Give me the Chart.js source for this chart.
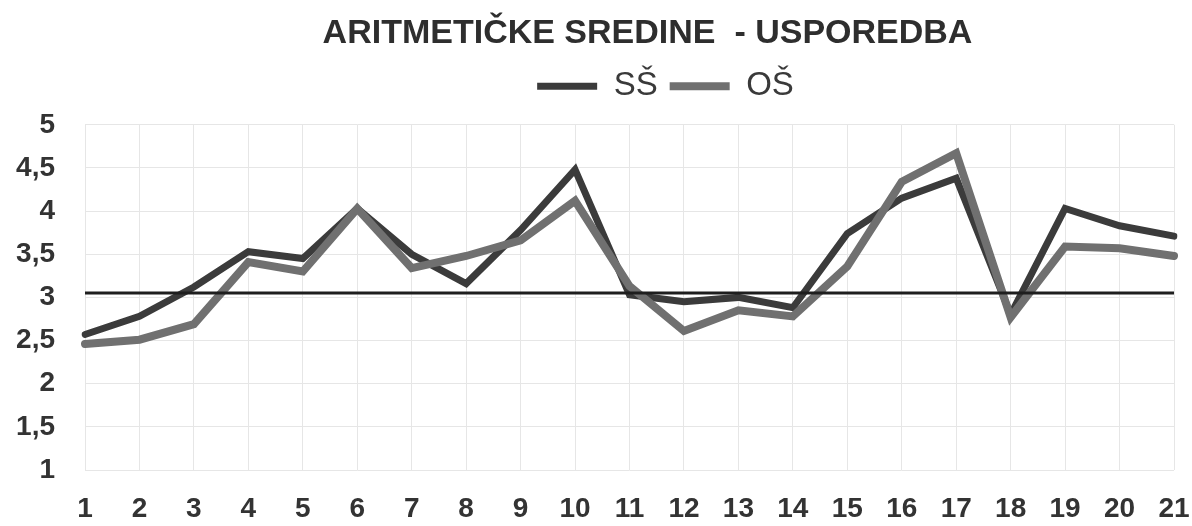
<!DOCTYPE html>
<html>
<head>
<meta charset="utf-8">
<script src="https://cdn.jsdelivr.net/npm/chart.js@4"></script>
<style>
    html, body { margin: 0; padding: 0; background: #fff; }
    #wrap { width: 1192px; height: 526px; }
</style>
</head>
<body>
<div id="wrap"><canvas id="avgChart"></canvas></div>
<script>
// Aritmetičke sredine - usporedba (SŠ vs OŠ)
const categories = ['1', '2', '3', '4', '5', '6', '7', '8', '9', '10', '11',
    '12', '13', '14', '15', '16', '17', '18', '19', '20', '21'];
const ssValues = [2.57, 2.78, 3.12, 3.53, 3.45, 4.03, 3.5, 3.16, 3.78, 4.48, 3.03,
    2.95, 3.0, 2.88, 3.74, 4.15, 4.38, 2.8, 4.03, 3.83, 3.71];
const osValues = [2.46, 2.51, 2.69, 3.41, 3.3, 4.03, 3.34, 3.48, 3.66, 4.12, 3.13,
    2.61, 2.85, 2.78, 3.36, 4.34, 4.67, 2.77, 3.59, 3.57, 3.48];
const refValues = [3.05, 3.05, 3.05, 3.05, 3.05, 3.05, 3.05, 3.05, 3.05, 3.05, 3.05,
    3.05, 3.05, 3.05, 3.05, 3.05, 3.05, 3.05, 3.05, 3.05, 3.05];
const yTickLabels = ['1', '1,5', '2', '2,5', '3', '3,5', '4', '4,5', '5'];

const FONT = '"Liberation Sans", Arial, sans-serif';

// extra room between legend and plot, and nudge title/legend to the right
const legendGap = {
    id: 'legendGap',
    beforeInit(chart) {
        const fit = chart.legend.fit;
        chart.legend.fit = function() {
            fit.call(this);
            this.height += 12;
        };
    },
    afterLayout(chart) {
        chart.titleBlock.left += 18;
        chart.titleBlock.right += 18;
        chart.legend.left += 36;
        chart.legend.right += 36;
    }
};

new Chart(document.getElementById('avgChart'), {
    type: 'line',
    data: {
        labels: categories,
        datasets: [{
            label: 'SŠ',
            data: ssValues,
            borderColor: '#3b3b3b',
            backgroundColor: '#3b3b3b',
            borderWidth: 7,
            borderCapStyle: 'round',
            pointRadius: 0,
            tension: 0,
            order: 2
        }, {
            label: 'OŠ',
            data: osValues,
            borderColor: '#707070',
            backgroundColor: '#707070',
            borderWidth: 8,
            borderCapStyle: 'round',
            pointRadius: 0,
            tension: 0,
            order: 1
        }, {
            label: 'ref',
            data: refValues,
            borderColor: '#1e1e1e',
            borderWidth: 3,
            pointRadius: 0,
            tension: 0,
            order: 0
        }]
    },
    options: {
        responsive: true,
        maintainAspectRatio: false,
        animation: false,
        layout: {
            padding: 0
        },
        plugins: {
            title: {
                display: true,
                text: 'ARITMETIČKE SREDINE  - USPOREDBA',
                color: '#2e2e2e',
                fullSize: false,
                font: { family: FONT, size: 34, weight: 'bold' },
                padding: { top: 13, bottom: 4 }
            },
            legend: {
                display: true,
                fullSize: false,
                labels: {
                    color: '#3a3a3a',
                    font: { family: FONT, size: 33 },
                    usePointStyle: true,
                    pointStyle: 'line',
                    pointStyleWidth: 60,
                    padding: 12,
                    filter: function(item) {
                        return item.text !== 'ref';
                    },
                    sort: function(a, b) {
                        return a.datasetIndex - b.datasetIndex;
                    }
                }
            },
            tooltip: { enabled: false }
        },
        scales: {
            x: {
                offset: false,
                grid: {
                    color: '#e6e6e6',
                    drawTicks: false
                },
                border: { display: false },
                ticks: {
                    color: '#333',
                    padding: 22,
                    maxRotation: 0,
                    autoSkip: false,
                    font: { family: FONT, size: 28, weight: 'bold' }
                },
                afterFit: function(scale) {
                    scale.height = 56;
                    scale.paddingLeft = 0;
                    scale.paddingRight = 18;
                }
            },
            y: {
                min: 1,
                max: 5,
                grid: {
                    color: '#e6e6e6',
                    drawTicks: false
                },
                border: { display: false },
                ticks: {
                    stepSize: 0.5,
                    color: '#333',
                    padding: 30,
                    font: { family: FONT, size: 28, weight: 'bold' },
                    callback: function(value) {
                        const i = Math.round((value - 1) / 0.5);
                        return yTickLabels[i];
                    }
                },
                afterFit: function(scale) {
                    scale.width = 85;
                    scale.paddingTop = 0;
                    scale.paddingBottom = 0;
                }
            }
        }
    },
    plugins: [legendGap]
});
</script>
</body>
</html>
